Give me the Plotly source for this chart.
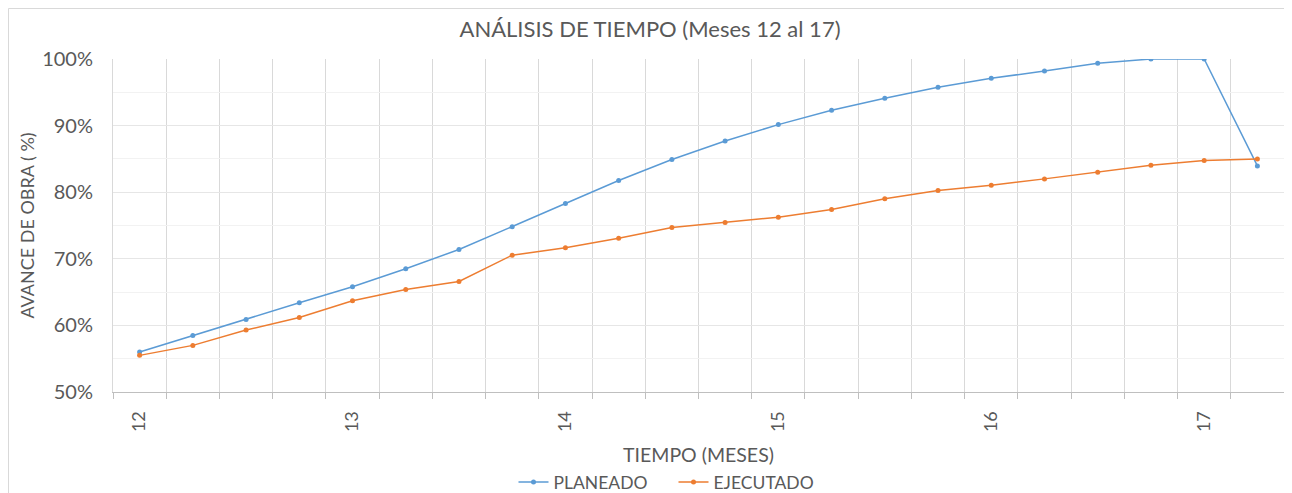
import plotly.graph_objects as go

# ---- data ----
meses = [12, 12.25, 12.5, 12.75, 13, 13.25, 13.5, 13.75, 14, 14.25, 14.5, 14.75,
         15, 15.25, 15.5, 15.75, 16, 16.25, 16.5, 16.75, 17, 17.25]
planeado = [56.0, 58.5, 60.9, 63.4, 65.8, 68.5, 71.4, 74.8, 78.3, 81.75, 84.9, 87.7,
            90.15, 92.3, 94.1, 95.75, 97.1, 98.2, 99.35, 100.0, 100.0, 83.95]
ejecutado = [55.5, 57.0, 59.3, 61.2, 63.7, 65.4, 66.6, 70.55, 71.65, 73.1, 74.7, 75.45,
             76.25, 77.4, 79.0, 80.25, 81.05, 82.0, 83.0, 84.05, 84.75, 85.0]
tick_vals = [12, 13, 14, 15, 16, 17]
tick_text = ["12", "13", "14", "15", "16", "17"]

FONT = "Lato"
TXT = "#595959"

W, H = 1284, 485          # page has an 8px body margin
ML, MT, PW, PH = 105, 51, 1171, 333

fig = go.Figure()
fig.add_trace(go.Scatter(
    x=meses, y=[v / 100 for v in planeado], name="PLANEADO", mode="lines+markers",
    line=dict(color="#5b9bd5", width=1.5), marker=dict(size=5, color="#5b9bd5")))
fig.add_trace(go.Scatter(
    x=meses, y=[v / 100 for v in ejecutado], name="EJECUTADO", mode="lines+markers",
    line=dict(color="#ed7d31", width=1.5), marker=dict(size=5, color="#ed7d31")))

fig.update_layout(
    width=W, height=H,
    margin=dict(l=ML, r=W - ML - PW, t=MT, b=H - MT - PH, autoexpand=False),
    paper_bgcolor="white", plot_bgcolor="white",
    font=dict(family=FONT, color=TXT),
    title=dict(text="ANÁLISIS DE TIEMPO (Meses 12 al 17)", x=0.5, xanchor="center",
               y=1 - 21 / H, yanchor="middle", font=dict(size=22, color=TXT)),
    showlegend=True,
    legend=dict(orientation="h", x=0.5 - 25 / PW, xanchor="center",
                y=-(474 - (MT + PH)) / PH, yanchor="middle",
                font=dict(size=17.5, color=TXT), itemwidth=30, tracegroupgap=0,
                entrywidthmode="pixels", entrywidth=115),
    shapes=[dict(type="rect", xref="paper", yref="paper",
                 x0=(0.5 - ML) / PW, x1=(1283 - ML) / PW,
                 y0=-0.6, y1=1 + (MT - 0.5) / PH,
                 line=dict(color="#d9d9d9", width=1), layer="below")],
)

fig.update_xaxes(
    automargin=False,
    range=[11.875, 17.375], tickmode="array", tickvals=tick_vals, ticktext=tick_text,
    tickangle=-90, tickfont=dict(size=18, color=TXT), ticks="", showgrid=False,
    zeroline=False, showline=True, linecolor="#bfbfbf", linewidth=1, mirror=False,
    ticklabelstandoff=11,
    minor=dict(tickmode="linear", tick0=11.875, dtick=0.25, ticks="outside", ticklen=6,
               tickcolor="#bfbfbf", showgrid=True, gridcolor="#d9d9d9", gridwidth=1),
    title=dict(text="TIEMPO (MESES)", font=dict(size=19.5, color=TXT), standoff=17),
)
fig.update_yaxes(
    automargin=False,
    range=[0.5, 1.0], tickmode="linear", tick0=0.5, dtick=0.1, tickformat=".0%",
    tickfont=dict(size=20, color=TXT), ticks="", showgrid=True, gridcolor="#e6e6e6",
    zeroline=False, showline=True, linecolor="#d9d9d9", mirror=True,
    ticklabelstandoff=15,
    minor=dict(tickmode="linear", tick0=0.5, dtick=0.05, showgrid=True, gridcolor="#f2f2f2"),
    title=dict(text="AVANCE DE OBRA ( %)", font=dict(size=18, color=TXT), standoff=2),
)

fig.write_html("out.html")
